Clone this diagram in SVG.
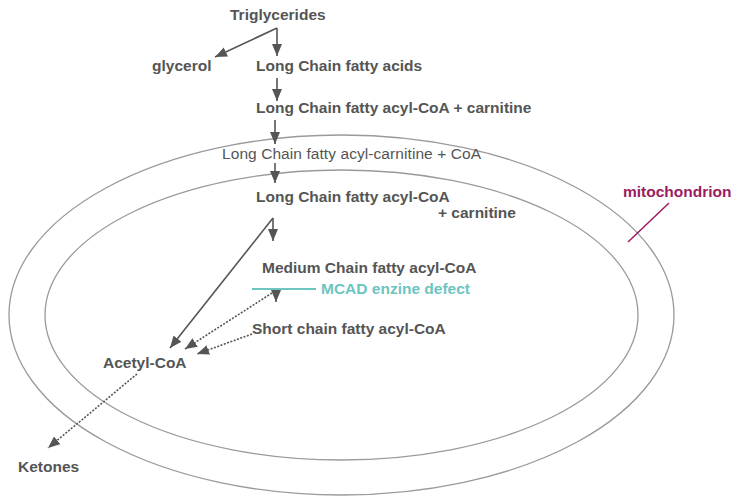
<svg xmlns="http://www.w3.org/2000/svg" width="737" height="496" viewBox="0 0 737 496">
<style>
.t{font-family:"Liberation Sans",Arial,sans-serif;font-size:15.5px;font-weight:bold;fill:#555;}
.n{font-weight:normal;}
.c{stroke:#555;stroke-width:1.6;fill:none;}
.d{stroke:#555;stroke-width:1.6;fill:none;stroke-dasharray:2 1.5;}
.m{fill:none;stroke:#9a9a9a;stroke-width:1.3;}
</style>
<defs>
<marker id="ah" markerUnits="userSpaceOnUse" markerWidth="12" markerHeight="10" refX="12" refY="5" orient="auto">
<path d="M0,0 L12,5 L0,10 z" fill="#555"/>
</marker>
</defs>
<g id="mitochondrion">
<ellipse class="m" cx="341.5" cy="315" rx="332.5" ry="180"/>
<ellipse class="m" cx="341.5" cy="315" rx="296.5" ry="145"/>
<line x1="628" y1="242" x2="669" y2="203" stroke="#9b1b5f" stroke-width="1.5"/>
<text class="t" x="623" y="197" style="fill:#9b1b5f">mitochondrion</text>
</g>
<g id="triglycerides"><text class="t" x="230" y="20">Triglycerides</text></g>
<g id="glycerol"><text class="t" x="152" y="71">glycerol</text></g>
<g id="lcfa"><text class="t" x="256" y="71">Long Chain fatty acids</text></g>
<g id="lcfacoa-carnitine"><text class="t" x="256" y="113">Long Chain fatty acyl-CoA + carnitine</text></g>
<g id="lcfa-carnitine"><text class="t n" x="222" y="159" textLength="259">Long Chain fatty acyl-carnitine + CoA</text></g>
<g id="lcfacoa"><text class="t" x="256" y="202">Long Chain fatty acyl-CoA</text>
<text class="t" x="438" y="218">+ carnitine</text></g>
<g id="mcfacoa"><text class="t" x="262" y="273">Medium Chain fatty acyl-CoA</text></g>
<g id="mcad"><line x1="252" y1="289" x2="316" y2="289" stroke="#6cc5c0" stroke-width="2"/>
<text class="t" x="321" y="294" style="fill:#6cc5c0">MCAD enzine defect</text></g>
<g id="scfacoa"><text class="t" x="252" y="334">Short chain fatty acyl-CoA</text></g>
<g id="acetylcoa"><text class="t" x="103" y="368">Acetyl-CoA</text></g>
<g id="ketones"><text class="t" x="18" y="472">Ketones</text></g>
<g id="connectors">
<path class="c" d="M277,28 V56" marker-end="url(#ah)"/>
<path class="c" d="M277,28 L215,57" marker-end="url(#ah)"/>
<path class="c" d="M277,78 V101" marker-end="url(#ah)"/>
<path class="c" d="M275,120 V144" marker-end="url(#ah)"/>
<path class="c" d="M275,163 V183" marker-end="url(#ah)"/>
<path class="c" d="M273,218 V241" marker-end="url(#ah)"/>
<path class="c" d="M273,218 L170,348" marker-end="url(#ah)"/>
<path class="c" d="M276,290 V302" marker-end="url(#ah)"/>
<path class="d" d="M272,293 L185,349" marker-end="url(#ah)"/>
<path class="d" d="M252,334 L197,354" marker-end="url(#ah)"/>
<path class="d" d="M137,374 L48,448" marker-end="url(#ah)"/>
</g>
</svg>
